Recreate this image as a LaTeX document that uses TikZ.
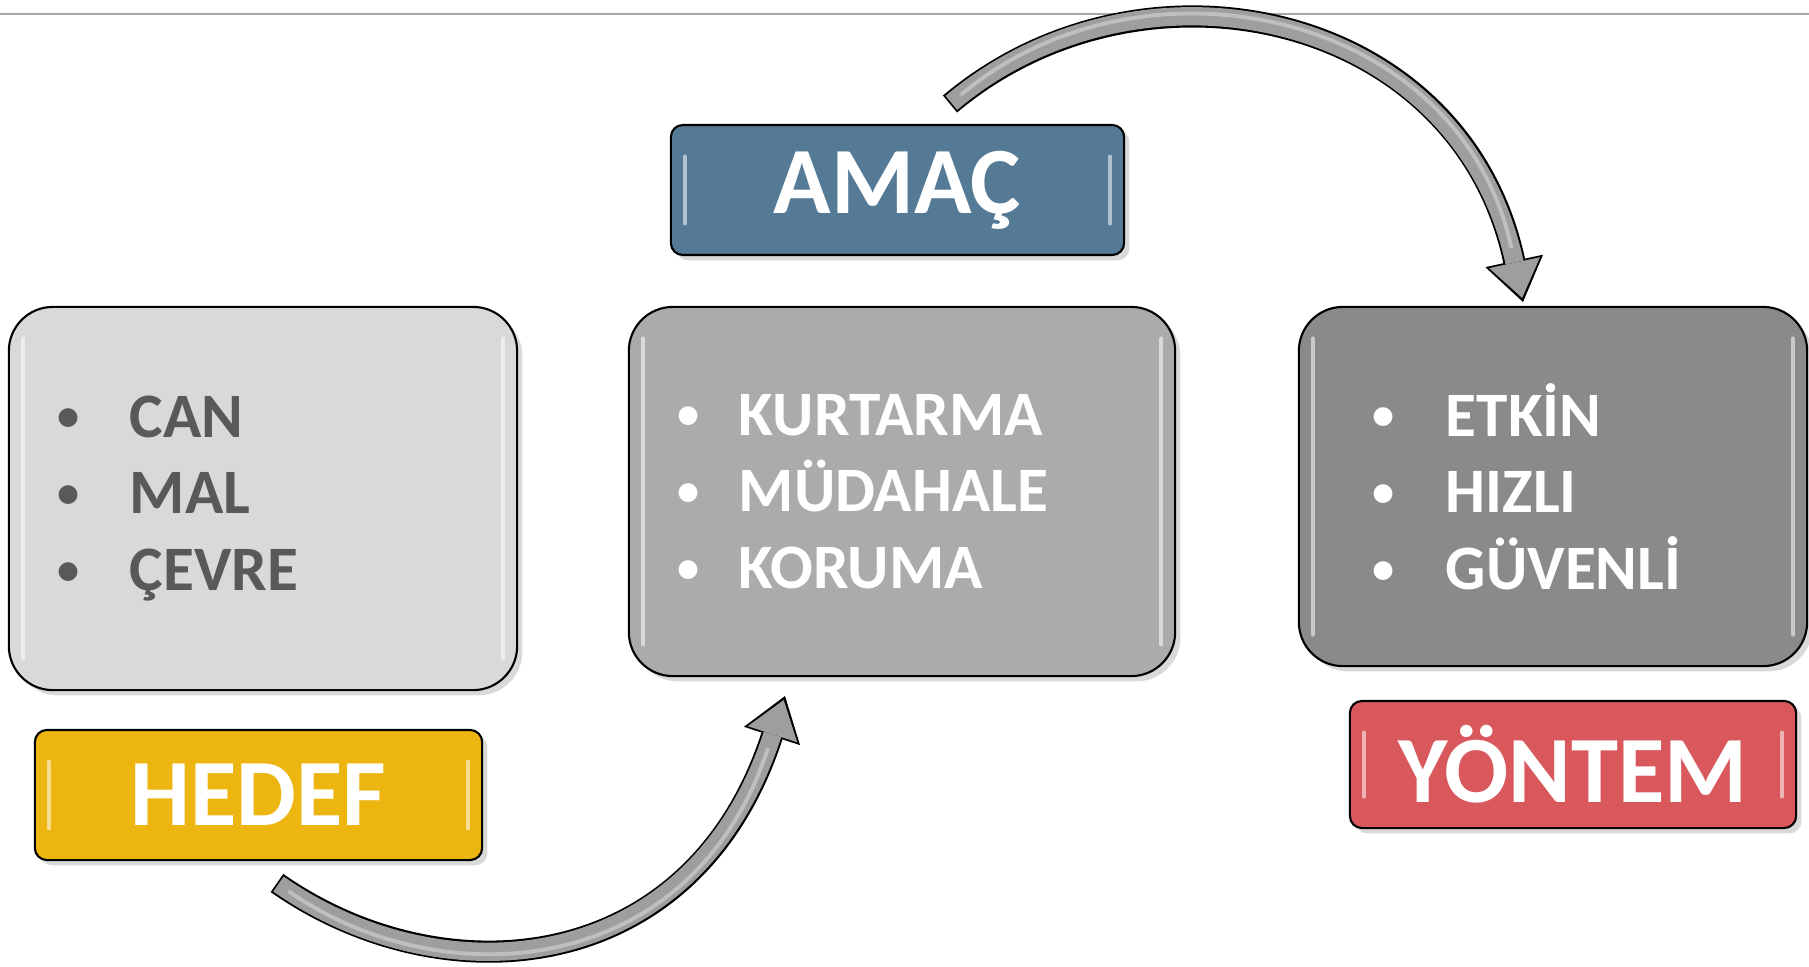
\documentclass[tikz,border=0pt]{standalone}
\usepackage{fontspec}
\setmainfont{Carlito}
\usetikzlibrary{shadows, arrows.meta}

\definecolor{boxlight}{HTML}{D9D9D9}
\definecolor{boxmid}{HTML}{ABABAB}
\definecolor{boxdark}{HTML}{8A8A8A}
\definecolor{txtgray}{HTML}{595959}
\definecolor{amacblue}{HTML}{557A96}
\definecolor{hedefgold}{HTML}{EDB510}
\definecolor{yontemred}{HTML}{D9585B}
\definecolor{arrowgray}{HTML}{9E9E9E}
\definecolor{rulegray}{HTML}{A6A6A6}

% one bullet line: #1 = gap from bullet to word
\newcommand{\itm}[2]{\makebox[#1][l]{\makebox[0.2cm]{\raisebox{1.8pt}{\scalebox{0.7}{•}}}}#2}

\tikzset{
  glossy/.style={draw=black, line width=0.6pt,
    drop shadow={opacity=.3, shadow xshift=1.5pt, shadow yshift=-1.5pt},
    path picture={
      \draw[white, opacity=.55, line width=1.2pt, line cap=round]
        ([xshift=4pt,yshift=-9pt]path picture bounding box.north west) --
        ([xshift=4pt,yshift=9pt]path picture bounding box.south west)
        ([xshift=-4pt,yshift=-9pt]path picture bounding box.north east) --
        ([xshift=-4pt,yshift=9pt]path picture bounding box.south east);
    }},
  listbox/.style={glossy, rounded corners=0.44cm, align=left, inner ysep=0pt,
    font=\fontsize{18}{21.8}\selectfont\bfseries},
  tagbox/.style={glossy, rounded corners=0.12cm, text=white, inner sep=0pt,
    font=\fontsize{27}{30}\selectfont\bfseries},
  bandout/.style={line width=6.3pt,
    -{Triangle[length=0.42cm, width=0.59cm, line width=0pt]}},
  bandin/.style={arrowgray, line width=5.2pt, shorten <=0.5pt, shorten >=1.2pt,
    -{Triangle[length=0.36cm, width=0.52cm, line width=0pt]}},
  bandshine/.style={white, opacity=.35, line width=1.1pt, shorten <=4pt, shorten >=0.55cm}
}

\begin{document}
\begin{tikzpicture}[x=0.01cm, y=-0.01cm]
\useasboundingbox (0,0) rectangle (1809,966);
\draw[rulegray, line width=0.6pt] (0,14) -- (1809,14);

% the three lists
\node[listbox, fill=boxlight, text=txtgray, minimum width=5.08cm, minimum height=3.83cm,
  inner xsep=0.5cm, text width=4.08cm] (hedefbox) at (263,498.5)
  {\itm{0.71cm}{CAN}\\ \itm{0.71cm}{MAL}\\ \itm{0.71cm}{ÇEVRE}};
\node[listbox, fill=boxmid, text=white, minimum width=5.46cm, minimum height=3.69cm,
  inner xsep=0.5cm, text width=4.46cm] (amacbox) at (902,491.5)
  {\itm{0.6cm}{KURTARMA}\\ \itm{0.6cm}{MÜDAHALE}\\ \itm{0.6cm}{KORUMA}};
\node[listbox, fill=boxdark, text=white, minimum width=5.08cm, minimum height=3.59cm,
  inner xsep=0.75cm, text width=3.58cm] (yontembox) at (1553,486.5)
  {\itm{0.72cm}{ETKİN}\\ \itm{0.72cm}{HIZLI}\\ \itm{0.72cm}{GÜVENLİ}};

% the three tags
\node[tagbox, fill=hedefgold, minimum width=4.47cm, minimum height=1.3cm] (hedef) at (258.5,795) {HEDEF};
\node[tagbox, fill=amacblue, minimum width=4.53cm, minimum height=1.3cm] (amac) at (897.5,190) {AMAÇ};
\node[tagbox, fill=yontemred, minimum width=4.46cm, minimum height=1.27cm] (yontem) at (1573,764.5) {YÖNTEM};

% curved arrows
\coordinate (topfrom) at (950,104);
\coordinate (topto) at (1523,302);
\coordinate (lowfrom) at (277,883);
\coordinate (lowto) at (785,696);

\draw[bandout] (topfrom) .. controls (1141,-57) and (1460,9) .. (topto);
\draw[bandin] (topfrom) .. controls (1141,-57) and (1460,9) .. (topto);
\draw[bandshine] (topfrom) .. controls (1141,-57) and (1460,9) .. (topto);

\draw[bandout] (lowfrom) .. controls (441,998) and (692,981) .. (lowto);
\draw[bandin] (lowfrom) .. controls (441,998) and (692,981) .. (lowto);
\draw[bandshine] (lowfrom) .. controls (441,998) and (692,981) .. (lowto);
\end{tikzpicture}
\end{document}
